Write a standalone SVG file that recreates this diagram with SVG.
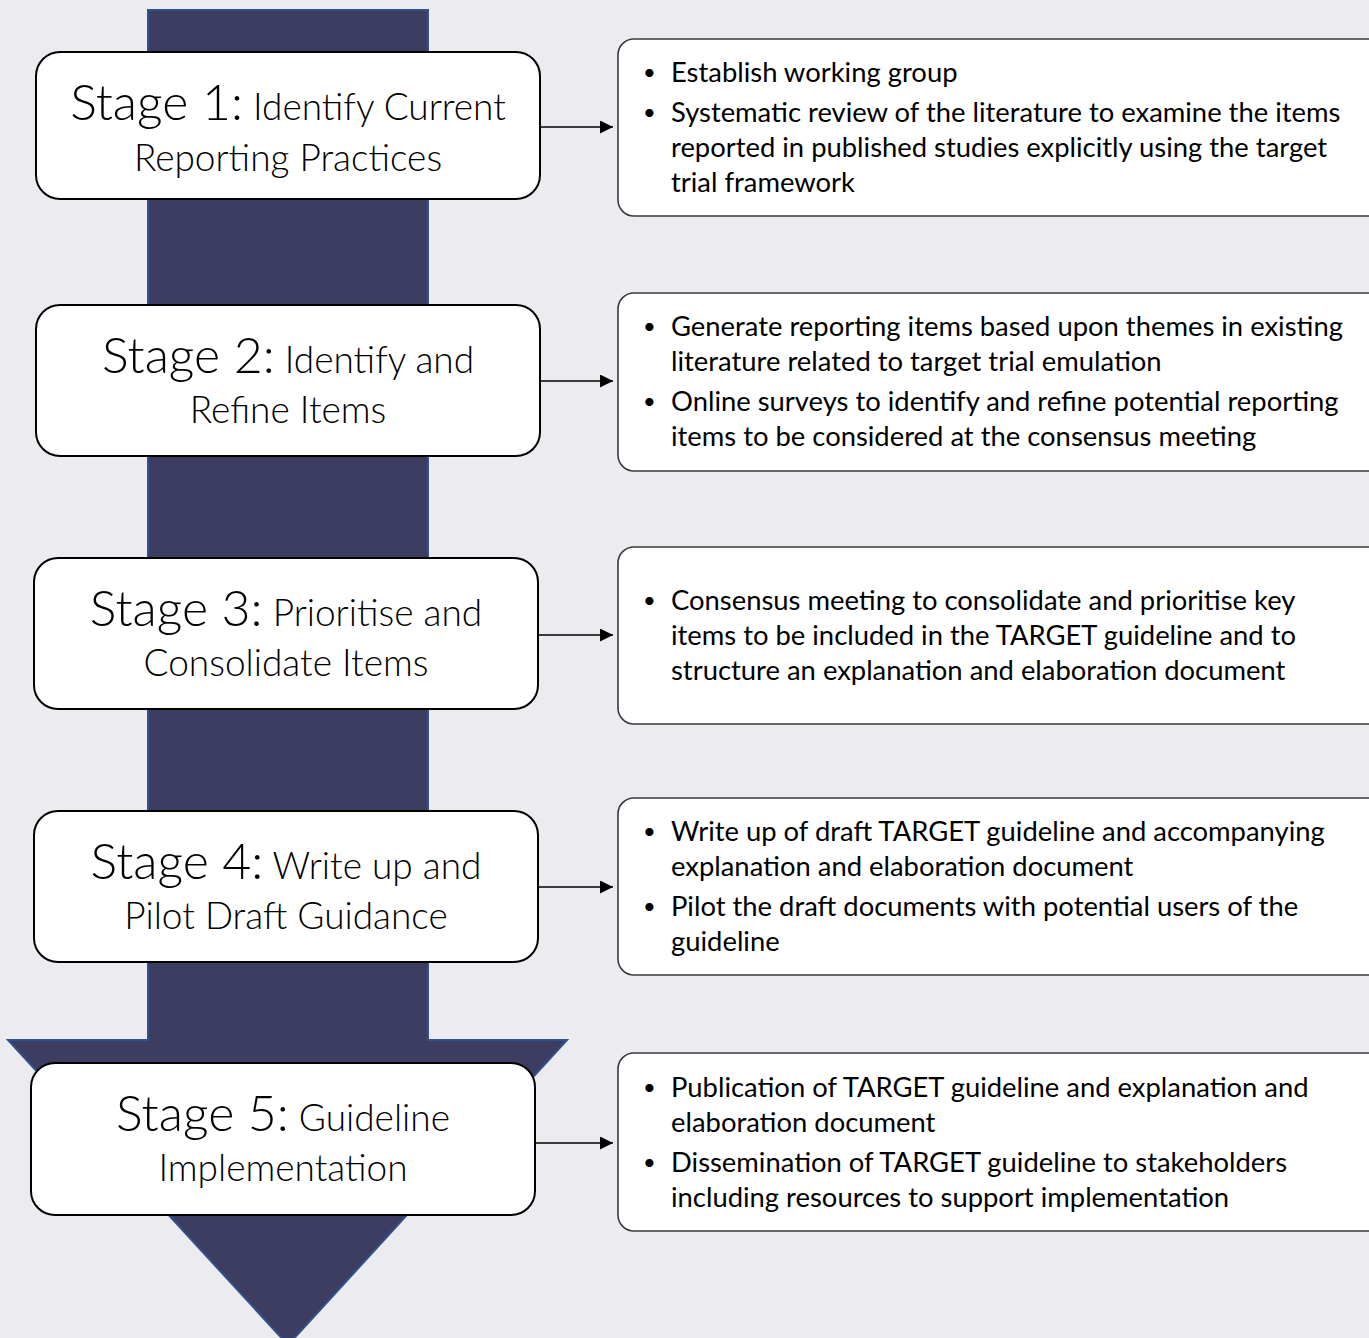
<svg xmlns="http://www.w3.org/2000/svg" width="1369" height="1338" viewBox="0 0 1369 1338">
<defs>
<style>
.bg{fill:#ECEBF0}
.stage{fill:#fff;stroke:#000;stroke-width:2}
.info{fill:#fff;stroke:#3a3a3a;stroke-width:1.6}
.big{font-family:Lato,"Liberation Sans",sans-serif;font-weight:300;fill:#000}
.t1{font-size:50px}
.t2{font-size:37px}
.item{font-family:Lato,"Liberation Sans",sans-serif;font-size:27.4px;fill:#000}
.bul{font-size:22px}
.conn{stroke:#000;stroke-width:1.5;fill:none}
</style>
<marker id="ah" viewBox="0 0 10 10" refX="10" refY="5" markerWidth="13" markerHeight="13" markerUnits="userSpaceOnUse" orient="auto">
<path d="M0,0 L10,5 L0,10 z" fill="#000"/>
</marker>
</defs>
<rect class="bg" x="0" y="0" width="1369" height="1338"/>
<g id="arrow">
<path d="M148,10 L428,10 L428,1040 L567,1040 L288,1345 L8,1040 L148,1040 Z" fill="#3D3D62" stroke="#2F528F" stroke-width="2"/>
</g>
<g id="connectors">
<line class="conn" x1="540" y1="127" x2="613" y2="127" marker-end="url(#ah)"/>
<line class="conn" x1="540" y1="381" x2="613" y2="381" marker-end="url(#ah)"/>
<line class="conn" x1="538" y1="635" x2="613" y2="635" marker-end="url(#ah)"/>
<line class="conn" x1="538" y1="887" x2="613" y2="887" marker-end="url(#ah)"/>
<line class="conn" x1="535" y1="1143" x2="613" y2="1143" marker-end="url(#ah)"/>
</g>
<g id="stage1">
<rect class="stage" x="36" y="52" width="504" height="147" rx="24"/>
<text class="big" text-anchor="middle" x="288" y="120"><tspan class="t1">Stage 1:</tspan><tspan class="t2"> Identify Current</tspan></text>
<text class="big t2" text-anchor="middle" x="288" y="171">Reporting Practices</text>
</g>
<g id="stage2">
<rect class="stage" x="36" y="305" width="504" height="151" rx="24"/>
<text class="big" text-anchor="middle" x="288" y="373"><tspan class="t1">Stage 2:</tspan><tspan class="t2"> Identify and</tspan></text>
<text class="big t2" text-anchor="middle" x="288" y="423">Refine Items</text>
</g>
<g id="stage3">
<rect class="stage" x="34" y="558" width="504" height="151" rx="24"/>
<text class="big" text-anchor="middle" x="286" y="626"><tspan class="t1">Stage 3:</tspan><tspan class="t2"> Prioritise and</tspan></text>
<text class="big t2" text-anchor="middle" x="286" y="676">Consolidate Items</text>
</g>
<g id="stage4">
<rect class="stage" x="34" y="811" width="504" height="151" rx="24"/>
<text class="big" text-anchor="middle" x="286" y="879"><tspan class="t1">Stage 4:</tspan><tspan class="t2"> Write up and</tspan></text>
<text class="big t2" text-anchor="middle" x="286" y="929">Pilot Draft Guidance</text>
</g>
<g id="stage5">
<rect class="stage" x="31" y="1063" width="504" height="152" rx="24"/>
<text class="big" text-anchor="middle" x="283" y="1131"><tspan class="t1">Stage 5:</tspan><tspan class="t2"> Guideline</tspan></text>
<text class="big t2" text-anchor="middle" x="283" y="1181">Implementation</text>
</g>
<g id="info1">
<rect class="info" x="618" y="39" width="770" height="177" rx="16"/>
<text class="item"><tspan class="bul" x="643" y="80">•</tspan><tspan x="671" y="82">Establish working group</tspan><tspan class="bul" x="643" y="120">•</tspan><tspan x="671" y="122">Systematic review of the literature to examine the items</tspan><tspan x="671" y="157">reported in published studies explicitly using the target</tspan><tspan x="671" y="192">trial framework</tspan></text>
</g>
<g id="info2">
<rect class="info" x="618" y="293" width="770" height="178" rx="16"/>
<text class="item"><tspan class="bul" x="643" y="334">•</tspan><tspan x="671" y="336">Generate reporting items based upon themes in existing</tspan><tspan x="671" y="371">literature related to target trial emulation</tspan><tspan class="bul" x="643" y="409">•</tspan><tspan x="671" y="411">Online surveys to identify and refine potential reporting</tspan><tspan x="671" y="446">items to be considered at the consensus meeting</tspan></text>
</g>
<g id="info3">
<rect class="info" x="618" y="547" width="770" height="177" rx="16"/>
<text class="item"><tspan class="bul" x="643" y="608">•</tspan><tspan x="671" y="610">Consensus meeting to consolidate and prioritise key</tspan><tspan x="671" y="645">items to be included in the TARGET guideline and to</tspan><tspan x="671" y="680">structure an explanation and elaboration document</tspan></text>
</g>
<g id="info4">
<rect class="info" x="618" y="798" width="770" height="177" rx="16"/>
<text class="item"><tspan class="bul" x="643" y="839">•</tspan><tspan x="671" y="841">Write up of draft TARGET guideline and accompanying</tspan><tspan x="671" y="876">explanation and elaboration document</tspan><tspan class="bul" x="643" y="914">•</tspan><tspan x="671" y="916">Pilot the draft documents with potential users of the</tspan><tspan x="671" y="951">guideline</tspan></text>
</g>
<g id="info5">
<rect class="info" x="618" y="1053" width="770" height="178" rx="16"/>
<text class="item"><tspan class="bul" x="643" y="1095">•</tspan><tspan x="671" y="1097">Publication of TARGET guideline and explanation and</tspan><tspan x="671" y="1132">elaboration document</tspan><tspan class="bul" x="643" y="1170">•</tspan><tspan x="671" y="1172">Dissemination of TARGET guideline to stakeholders</tspan><tspan x="671" y="1207">including resources to support implementation</tspan></text>
</g>
</svg>
